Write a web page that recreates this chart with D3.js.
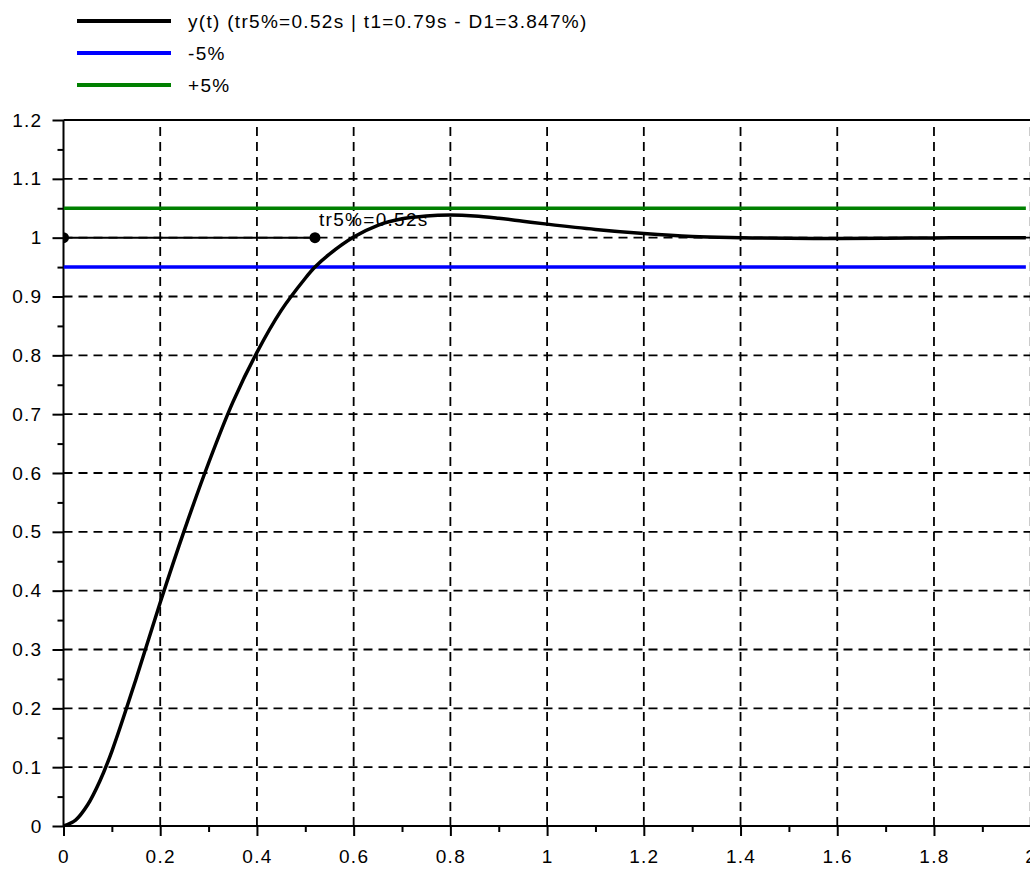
<!DOCTYPE html>
<html>
<head>
<meta charset="utf-8">
<script src="https://cdn.jsdelivr.net/npm/d3@7"></script>
<style>
  body { margin: 0; background: #fff; }
  text { font-family: "Liberation Sans", Arial, sans-serif; letter-spacing: 1.3px; }
</style>
</head>
<body>
<div id="chart"></div>
<script>
// step response
const tValues = [0, 0.025, 0.05, 0.075, 0.1, 0.15, 0.2, 0.25, 0.3, 0.35, 0.4, 0.45, 0.5, 0.52, 0.55, 0.6, 0.65, 0.7, 0.75, 0.8, 0.85, 0.9, 0.95, 1.0, 1.1, 1.2, 1.3, 1.4, 1.5, 1.6, 1.7, 1.8, 1.9, 1.99];
const yValues = [0, 0.01, 0.036, 0.076, 0.127, 0.25, 0.38, 0.503, 0.617, 0.72, 0.805, 0.876, 0.931, 0.95, 0.972, 1.001, 1.021, 1.032, 1.037, 1.0385, 1.037, 1.033, 1.028, 1.023, 1.014, 1.007, 1.002, 1.0, 0.9988, 0.9987, 0.999, 0.9996, 1.0, 1.0];
const lowBand = 0.95;
const highBand = 1.05;
const trTime = 0.52;
const legendLabels = ['y(t) (tr5%=0.52s | t1=0.79s - D1=3.847%)', '-5%', '+5%'];
const legendColors = ['#000000', '#0000ff', '#008000'];
const xTicks = [0, 0.2, 0.4, 0.6, 0.8, 1, 1.2, 1.4, 1.6, 1.8, 2];
const yTicks = [0, 0.1, 0.2, 0.3, 0.4, 0.5, 0.6, 0.7, 0.8, 0.9, 1, 1.1, 1.2];

const width = 1030;
const height = 870;
const plotLeft = 63.5, plotTop = 120, plotBottom = 826;
const plotW = 967.2;

const svg = d3.select('#chart')
    .append('svg')
    .attr('width', width)
    .attr('height', height);

const x = d3.scaleLinear().domain([0, 2]).range([plotLeft, plotLeft + plotW]);
const y = d3.scaleLinear().domain([0, 1.2]).range([plotBottom, plotTop]);

svg.append('clipPath').attr('id', 'plot-clip')
    .append('rect')
    .attr('x', plotLeft).attr('y', plotTop)
    .attr('width', plotW).attr('height', plotBottom - plotTop);

// grid
const grid = svg.append('g')
    .attr('stroke', '#000')
    .attr('stroke-width', 1.8)
    .attr('stroke-dasharray', '9,6');

grid.selectAll('.vgrid')
    .data(xTicks.slice(1))
    .enter().append('line')
    .attr('x1', d => x(d)).attr('x2', d => x(d))
    .attr('y1', plotBottom).attr('y2', plotTop);

grid.selectAll('.hgrid')
    .data(yTicks.slice(1, -1))
    .enter().append('line')
    .attr('x1', plotLeft).attr('x2', width)
    .attr('y1', d => y(d)).attr('y2', d => y(d));

// axes
const xAxis = svg.append('g')
    .attr('transform', `translate(0,${plotBottom})`)
    .call(d3.axisBottom(x).tickValues(xTicks).tickSize(10).tickPadding(14).tickFormat(d3.format('')));

const xMinor = svg.append('g')
    .attr('transform', `translate(0,${plotBottom})`)
    .call(d3.axisBottom(x).tickValues(d3.range(0.1, 2, 0.2)).tickSize(6).tickFormat(''));

const yAxis = svg.append('g')
    .attr('transform', `translate(${plotLeft},0)`)
    .call(d3.axisLeft(y).tickValues(yTicks).tickSize(11).tickPadding(10).tickFormat(d3.format('')));

const yMinor = svg.append('g')
    .attr('transform', `translate(${plotLeft},0)`)
    .call(d3.axisLeft(y).tickValues(d3.range(0.05, 1.2, 0.1)).tickSize(6).tickFormat(''));

[xAxis, xMinor, yAxis, yMinor].forEach(g => {
    g.select('.domain').remove();
    g.selectAll('line').attr('stroke', '#000').attr('stroke-width', 2);
    g.selectAll('text').attr('font-size', 19).attr('fill', '#000')
        .attr('font-family', '"Liberation Sans", Arial, sans-serif');
});

svg.append('line')
    .attr('x1', plotLeft).attr('x2', plotLeft)
    .attr('y1', plotTop).attr('y2', plotBottom)
    .attr('stroke', '#000').attr('stroke-width', 2);
svg.append('line')
    .attr('x1', plotLeft).attr('x2', width)
    .attr('y1', plotBottom).attr('y2', plotBottom)
    .attr('stroke', '#000').attr('stroke-width', 2);
svg.append('line')
    .attr('x1', plotLeft).attr('x2', width)
    .attr('y1', plotTop).attr('y2', plotTop)
    .attr('stroke', '#000').attr('stroke-width', 2);

// data layer
const plot = svg.append('g').attr('clip-path', 'url(#plot-clip)');
const tEnd = tValues[tValues.length - 1];

plot.append('line')
    .attr('x1', x(0)).attr('x2', x(trTime))
    .attr('y1', y(1)).attr('y2', y(1))
    .attr('stroke', '#000').attr('stroke-width', 2);

plot.append('line')
    .attr('x1', x(0)).attr('x2', x(tEnd))
    .attr('y1', y(lowBand)).attr('y2', y(lowBand))
    .attr('stroke', legendColors[1]).attr('stroke-width', 3.5);

plot.append('line')
    .attr('x1', x(0)).attr('x2', x(tEnd))
    .attr('y1', y(highBand)).attr('y2', y(highBand))
    .attr('stroke', legendColors[2]).attr('stroke-width', 3.5);

svg.append('text')
    .attr('x', x(trTime) + 4)
    .attr('y', y(1) - 12)
    .attr('font-size', 19)
    .text('tr5%=' + trTime + 's');

const line = d3.line()
    .x((d, i) => x(tValues[i]))
    .y(d => y(d))
    .curve(d3.curveCatmullRom.alpha(0.5));

plot.append('path')
    .datum(yValues)
    .attr('d', line)
    .attr('fill', 'none')
    .attr('stroke', '#000')
    .attr('stroke-width', 3.5);

plot.selectAll('.marker')
    .data([0, trTime])
    .enter().append('circle')
    .attr('cx', d => x(d))
    .attr('cy', y(1))
    .attr('r', 5.5)
    .attr('fill', '#000');

// legend
const legend = svg.append('g');
legendLabels.forEach((label, i) => {
    const ly = 21 + i * 32;
    legend.append('line')
        .attr('x1', 77).attr('x2', 171)
        .attr('y1', ly).attr('y2', ly)
        .attr('stroke', legendColors[i])
        .attr('stroke-width', 4);
    legend.append('text')
        .attr('x', 188)
        .attr('y', ly + 7)
        .attr('font-size', 19)
        .text(label);
});
</script>
</body>
</html>
